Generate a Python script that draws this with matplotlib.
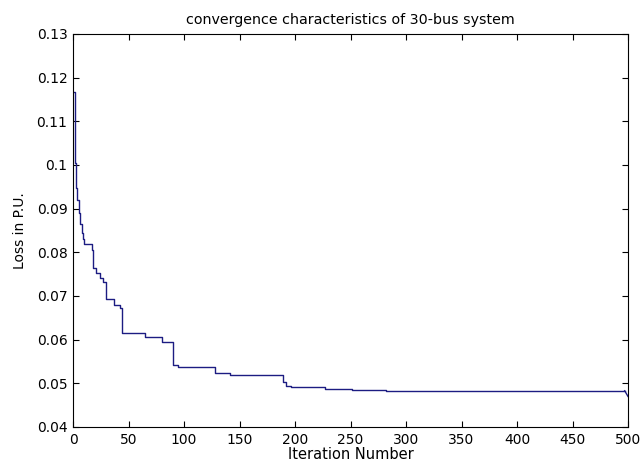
import matplotlib
matplotlib.use("Agg")
import matplotlib.pyplot as plt

# ── Data (step changes of best loss) ────────────────────────────────────────
iterations = [1, 2, 3, 4, 5, 6, 8, 9, 10, 17, 18, 21, 24, 27, 30, 37, 42, 44,
              65, 80, 90, 95, 128, 141, 189, 192, 196, 227, 251, 282, 347, 497]
loss_pu = [0.1167, 0.1005, 0.0947, 0.0920, 0.0890, 0.0865, 0.0845, 0.0830, 0.0820,
           0.0805, 0.0764, 0.0753, 0.0741, 0.0732, 0.0693, 0.0679, 0.0672, 0.0615,
           0.0606, 0.0595, 0.0542, 0.0537, 0.0524, 0.0518, 0.0504, 0.0494, 0.0491,
           0.0488, 0.0485, 0.0483, 0.0483, 0.0483]
# last iterations: small final drop
tail_iterations = [497, 500]
tail_loss = [0.0483, 0.0470]

x_ticks = list(range(0, 501, 50))
y_ticks = [0.04, 0.05, 0.06, 0.07, 0.08, 0.09, 0.10, 0.11, 0.12, 0.13]

plt.rcParams["font.family"] = ["DejaVu Sans"]

fig = plt.figure(figsize=(6.42, 4.66), dpi=100)
ax = fig.add_axes([73 / 642, 1 - 427 / 466, (628 - 73) / 642, (427 - 34) / 466])

line_color = "#1c1c82"
ax.plot(iterations, loss_pu, drawstyle="steps-post", color=line_color, linewidth=1.0)
ax.plot(tail_iterations, tail_loss, color=line_color, linewidth=1.0)

ax.set_xlim(0, 500)
ax.set_ylim(0.04, 0.13)
ax.set_xticks(x_ticks)
ax.set_yticks(y_ticks)
ax.set_yticklabels([f"{v:g}" for v in y_ticks])
ax.tick_params(direction="in", top=True, right=True, length=4, width=0.8,
               labelsize=10, pad=4)
for s in ax.spines.values():
    s.set_linewidth(0.8)

ax.set_title("convergence characteristics of 30-bus system", fontsize=10.3, pad=7)
ax.set_xlabel("Iteration Number", fontsize=10.5, labelpad=0)
ax.set_ylabel("Loss in P.U.", fontsize=10, labelpad=7)

fig.savefig("out.png", dpi=100)
